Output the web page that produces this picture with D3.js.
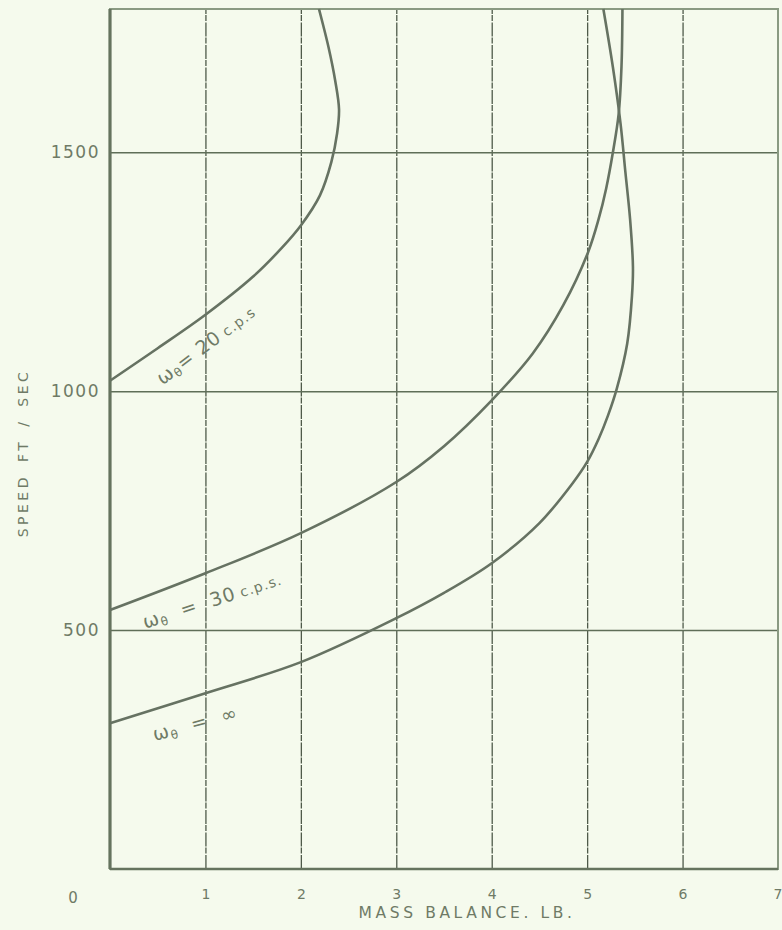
<!DOCTYPE html>
<html>
<head>
<meta charset="utf-8">
<script src="https://cdn.jsdelivr.net/npm/d3@7"></script>
<style>
  body { margin: 0; background: #f5faed; }
  svg { display: block; }
  text { font-family: "DejaVu Sans", sans-serif; fill: #6f7a66; }
</style>
</head>
<body>
<svg></svg>
<script>
var width = 782,
    height = 930;
var margin = { top: 9, right: 4, bottom: 61, left: 110 };

// tick labels
var xTicks = [1, 2, 3, 4, 5, 6, 7];
var yTicks = [500, 1000, 1500];

// curves: mass balance (lb) against speed (ft/sec)
var speed20 = [1022, 1090, 1160, 1240, 1300, 1347, 1410, 1480, 1540, 1590, 1650, 1720, 1800];
var mass20  = [0, 0.5, 1.0, 1.5, 1.8, 2.0, 2.2, 2.32, 2.38, 2.40, 2.36, 2.29, 2.19];

var speed30 = [542, 619, 703, 810, 885, 981, 1079, 1180, 1291, 1360, 1425, 1500, 1580, 1680, 1800];
var mass30  = [0, 1, 2, 3, 3.5, 4, 4.43, 4.75, 5.01, 5.12, 5.2, 5.27, 5.33, 5.36, 5.37];

var speedInf = [305, 368, 433, 525, 578, 640, 724, 808, 852, 900, 950, 1005, 1100, 1200, 1260, 1360, 1460, 1560, 1678, 1800];
var massInf  = [0, 1, 2, 3, 3.5, 4, 4.5, 4.85, 5, 5.12, 5.22, 5.31, 5.42, 5.47, 5.48, 5.45, 5.40, 5.35, 5.27, 5.17];

var svg = d3.select("svg")
    .attr("width", width)
    .attr("height", height);

var x = d3.scaleLinear().domain([0, 7]).range([margin.left, width - margin.right]);
var y = d3.scaleLinear().domain([0, 1800]).range([height - margin.bottom, margin.top]);

// grid
svg.append("g")
    .attr("transform", "translate(0," + y(0) + ")")
    .call(d3.axisBottom(x).tickValues([1, 2, 3, 4, 5, 6]).tickSize(-(y(0) - y(1800))).tickFormat(""))
    .call(g => g.select(".domain").remove())
    .selectAll("line")
    .attr("stroke", "#4f5a4a")
    .attr("stroke-width", 1.3)
    .attr("stroke-dasharray", "14,1.5,6,1");

svg.append("g")
    .attr("transform", "translate(" + x(0) + ",0)")
    .call(d3.axisLeft(y).tickValues(yTicks).tickSize(-(x(7) - x(0))).tickFormat(""))
    .call(g => g.select(".domain").remove())
    .selectAll("line")
    .attr("stroke", "#5f6e58")
    .attr("stroke-width", 1.5);

// frame
svg.append("rect")
    .attr("x", x(0))
    .attr("y", y(1800))
    .attr("width", x(7) - x(0))
    .attr("height", y(0) - y(1800))
    .attr("fill", "none")
    .attr("stroke", "#8a9a82")
    .attr("stroke-width", 2);
svg.append("line")
    .attr("x1", x(0)).attr("x2", x(0))
    .attr("y1", y(1800)).attr("y2", y(0))
    .attr("stroke", "#65735e").attr("stroke-width", 3.2);
svg.append("line")
    .attr("x1", x(0)).attr("x2", x(7))
    .attr("y1", y(0)).attr("y2", y(0))
    .attr("stroke", "#65735e").attr("stroke-width", 2.6);

// tick labels
var xAxis = svg.append("g")
    .attr("transform", "translate(0," + y(0) + ")")
    .call(d3.axisBottom(x).tickValues(xTicks).tickSize(0).tickPadding(20).tickFormat(d3.format("d")));
xAxis.select(".domain").remove();
xAxis.selectAll("text")
    .attr("font-size", 14)
    .style("font-family", "DejaVu Sans, sans-serif")
    .attr("fill", "#6f7a66")
    .filter(d => d === 7)
    .attr("text-anchor", "end")
    .attr("dx", 4);

svg.append("text")
    .attr("x", x(0) - 37)
    .attr("y", y(0) + 34)
    .attr("text-anchor", "middle")
    .attr("font-size", 15)
    .text("0");

var yAxis = svg.append("g")
    .attr("transform", "translate(" + x(0) + ",0)")
    .call(d3.axisLeft(y).tickValues(yTicks).tickSize(0).tickPadding(10).tickFormat(d3.format("d")));
yAxis.select(".domain").remove();
yAxis.selectAll("text")
    .attr("font-size", 17)
    .attr("letter-spacing", 1.5)
    .style("font-family", "DejaVu Sans, sans-serif")
    .attr("fill", "#6f7a66");

// axis titles
svg.append("text")
    .attr("x", 467)
    .attr("y", 918)
    .attr("text-anchor", "middle")
    .attr("font-size", 15.5)
    .attr("letter-spacing", 3.6)
    .text("MASS BALANCE. LB.");

svg.append("text")
    .attr("transform", "translate(28,453) rotate(-90)")
    .attr("text-anchor", "middle")
    .attr("font-size", 14)
    .attr("letter-spacing", 3.5)
    .attr("word-spacing", 4)
    .text("SPEED FT / SEC");

// curves
var line = d3.line()
    .x(d => x(d[0]))
    .y(d => y(d[1]))
    .curve(d3.curveCatmullRom.alpha(0.5));

[[mass20, speed20], [mass30, speed30], [massInf, speedInf]].forEach(function (c) {
    svg.append("path")
        .datum(d3.zip(c[0], c[1]))
        .attr("fill", "none")
        .attr("stroke", "#667262")
        .attr("stroke-width", 2.6)
        .attr("d", line);
});

// curve labels
function label(px, py, angle, value, small) {
    var t = svg.append("text")
        .attr("transform", "translate(" + x(px) + "," + y(py) + ") rotate(" + angle + ")")
        .attr("font-size", 19)
        .attr("letter-spacing", 1)
        .style("white-space", "pre");
    t.append("tspan").text("ω");
    t.append("tspan").attr("font-size", 12).attr("dy", 3).text("θ");
    t.append("tspan").attr("dy", -3).text(value);
    if (small) t.append("tspan").attr("font-size", 14).attr("dx", 5).text(small);
}
label(0.55, 1012, -37, "= 20", "c.p.s");
label(0.37, 503, -18, "  =  30", "c.p.s.");
label(0.47, 268, -15, "  =  ∞", null);
</script>
</body>
</html>
